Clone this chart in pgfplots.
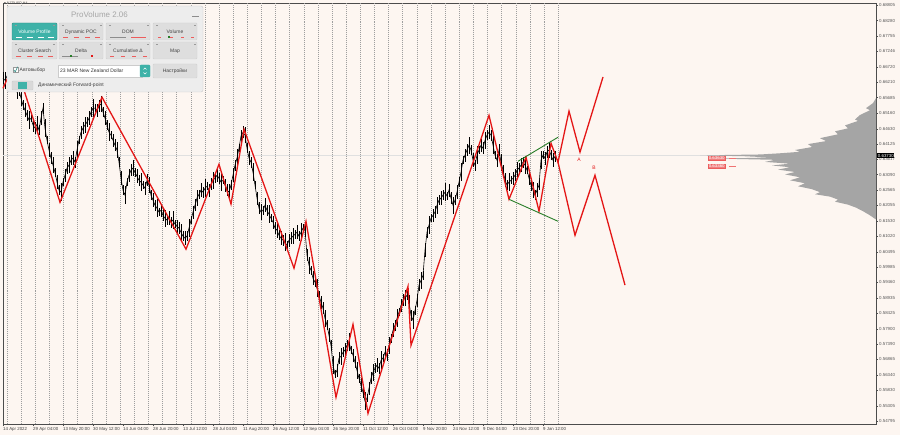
\documentclass[border=0pt]{standalone}
\usepackage{pgfplots}
\pgfplotsset{compat=1.18}
\usepackage{pgfplotstable}
\usepackage{fontspec}
\setmainfont{Liberation Sans}
\newfontfamily\symfont{DejaVu Sans}
\definecolor{bg}{RGB}{253,246,241}
\definecolor{zred}{RGB}{228,22,22}
\definecolor{zgreen}{RGB}{40,125,40}
\definecolor{teal1}{RGB}{62,178,168}
\definecolor{panelbg}{RGB}{237,237,237}
\definecolor{btn}{RGB}{222,222,222}
\definecolor{prof}{RGB}{165,165,165}
\newcommand{\tkfont}{\fontsize{4.4}{5}\selectfont}
\newcommand{\pfont}{\fontsize{5}{6}\selectfont}

\pgfplotstableread{
x c e
3 0.6634 0.0020
5 0.6627 0.0028
7 0.6641 0.0016
9 0.6621 0.0024
11 0.6611 0.0018
13 0.6627 0.0030
15 0.6600 0.0014
17 0.6587 0.0022
19 0.6594 0.0020
21 0.6567 0.0028
23 0.6543 0.0016
25 0.6526 0.0024
27 0.6509 0.0018
29 0.6493 0.0030
31 0.6499 0.0014
33 0.6476 0.0022
35 0.6466 0.0020
37 0.6479 0.0028
39 0.6459 0.0016
41 0.6499 0.0024
43 0.6533 0.0018
45 0.6466 0.0030
47 0.6425 0.0014
49 0.6392 0.0022
51 0.6365 0.0020
53 0.6341 0.0028
55 0.6317 0.0016
57 0.6284 0.0024
59 0.6257 0.0018
61 0.6250 0.0030
63 0.6284 0.0014
65 0.6307 0.0022
67 0.6331 0.0020
69 0.6341 0.0028
71 0.6358 0.0016
73 0.6365 0.0024
75 0.6351 0.0018
77 0.6392 0.0030
79 0.6425 0.0014
81 0.6452 0.0022
83 0.6466 0.0020
85 0.6476 0.0028
87 0.6486 0.0016
89 0.6499 0.0024
91 0.6520 0.0018
93 0.6533 0.0030
95 0.6533 0.0014
97 0.6526 0.0022
99 0.6540 0.0020
101 0.6547 0.0028
103 0.6520 0.0016
105 0.6499 0.0024
107 0.6476 0.0018
109 0.6452 0.0030
111 0.6442 0.0014
113 0.6425 0.0022
115 0.6408 0.0020
117 0.6392 0.0028
119 0.6351 0.0016
121 0.6297 0.0024
123 0.6257 0.0018
125 0.6240 0.0030
127 0.6284 0.0014
129 0.6307 0.0022
131 0.6324 0.0020
133 0.6331 0.0028
135 0.6317 0.0016
137 0.6304 0.0024
139 0.6290 0.0018
141 0.6284 0.0030
143 0.6274 0.0014
145 0.6263 0.0022
147 0.6290 0.0020
149 0.6274 0.0028
151 0.6240 0.0016
153 0.6223 0.0024
155 0.6206 0.0018
157 0.6196 0.0030
159 0.6183 0.0014
161 0.6189 0.0022
163 0.6172 0.0020
165 0.6162 0.0028
167 0.6156 0.0016
169 0.6162 0.0024
171 0.6149 0.0018
173 0.6156 0.0030
175 0.6142 0.0014
177 0.6135 0.0022
179 0.6129 0.0020
181 0.6115 0.0028
183 0.6102 0.0016
185 0.6095 0.0024
187 0.6102 0.0018
189 0.6129 0.0030
191 0.6156 0.0014
193 0.6183 0.0022
195 0.6206 0.0020
197 0.6230 0.0028
199 0.6243 0.0016
201 0.6257 0.0024
203 0.6250 0.0018
205 0.6263 0.0030
207 0.6270 0.0014
209 0.6257 0.0022
211 0.6277 0.0020
213 0.6290 0.0028
215 0.6297 0.0016
217 0.6307 0.0024
219 0.6297 0.0018
221 0.6284 0.0030
223 0.6290 0.0014
225 0.6274 0.0022
227 0.6257 0.0020
229 0.6250 0.0028
231 0.6274 0.0016
233 0.6307 0.0024
235 0.6341 0.0018
237 0.6365 0.0030
239 0.6398 0.0014
241 0.6439 0.0022
243 0.6452 0.0020
245 0.6442 0.0028
247 0.6398 0.0016
249 0.6365 0.0024
251 0.6351 0.0018
253 0.6317 0.0030
255 0.6274 0.0014
257 0.6230 0.0022
259 0.6196 0.0020
261 0.6183 0.0028
263 0.6189 0.0016
265 0.6206 0.0024
267 0.6189 0.0018
269 0.6176 0.0030
271 0.6162 0.0014
273 0.6149 0.0022
275 0.6129 0.0020
277 0.6122 0.0028
279 0.6105 0.0016
281 0.6095 0.0024
283 0.6088 0.0018
285 0.6081 0.0030
287 0.6071 0.0014
289 0.6088 0.0022
291 0.6095 0.0020
293 0.6102 0.0028
295 0.6108 0.0016
297 0.6115 0.0024
299 0.6102 0.0018
301 0.6115 0.0030
303 0.6129 0.0014
305 0.6122 0.0022
307 0.6038 0.0020
309 0.6004 0.0028
311 0.5987 0.0016
313 0.5960 0.0024
315 0.5947 0.0018
317 0.5926 0.0030
319 0.5903 0.0014
321 0.5879 0.0022
323 0.5859 0.0020
325 0.5825 0.0028
327 0.5802 0.0016
329 0.5768 0.0024
331 0.5734 0.0018
333 0.5667 0.0030
335 0.5637 0.0014
337 0.5650 0.0022
339 0.5691 0.0020
341 0.5697 0.0028
343 0.5711 0.0016
345 0.5718 0.0024
347 0.5734 0.0018
349 0.5745 0.0030
351 0.5718 0.0014
353 0.5701 0.0022
355 0.5677 0.0020
357 0.5650 0.0028
359 0.5623 0.0016
361 0.5600 0.0024
363 0.5576 0.0018
365 0.5546 0.0030
367 0.5556 0.0014
369 0.5589 0.0022
371 0.5623 0.0020
373 0.5643 0.0028
375 0.5657 0.0016
377 0.5667 0.0024
379 0.5657 0.0018
381 0.5684 0.0030
383 0.5691 0.0014
385 0.5711 0.0022
387 0.5701 0.0020
389 0.5734 0.0028
391 0.5758 0.0016
393 0.5785 0.0024
395 0.5802 0.0018
397 0.5825 0.0030
399 0.5846 0.0014
401 0.5869 0.0022
403 0.5886 0.0020
405 0.5893 0.0028
407 0.5903 0.0016
409 0.5879 0.0024
411 0.5835 0.0018
413 0.5819 0.0030
415 0.5852 0.0014
417 0.5886 0.0022
419 0.5937 0.0020
421 0.5953 0.0028
423 0.5970 0.0016
425 0.6055 0.0024
427 0.6115 0.0018
429 0.6139 0.0030
431 0.6162 0.0014
433 0.6172 0.0022
435 0.6183 0.0020
437 0.6206 0.0028
439 0.6223 0.0016
441 0.6230 0.0024
443 0.6240 0.0018
445 0.6250 0.0030
447 0.6237 0.0014
449 0.6257 0.0022
451 0.6230 0.0020
453 0.6206 0.0028
455 0.6223 0.0016
457 0.6250 0.0024
459 0.6284 0.0018
461 0.6317 0.0030
463 0.6358 0.0014
465 0.6375 0.0022
467 0.6392 0.0020
469 0.6408 0.0028
471 0.6392 0.0016
473 0.6358 0.0024
475 0.6341 0.0018
477 0.6375 0.0030
479 0.6392 0.0014
481 0.6408 0.0022
483 0.6398 0.0020
485 0.6425 0.0028
487 0.6442 0.0016
489 0.6452 0.0024
491 0.6442 0.0018
493 0.6408 0.0030
495 0.6375 0.0014
497 0.6358 0.0022
499 0.6392 0.0020
501 0.6351 0.0028
503 0.6324 0.0016
505 0.6290 0.0024
507 0.6274 0.0018
509 0.6284 0.0030
511 0.6290 0.0014
513 0.6297 0.0022
515 0.6307 0.0020
517 0.6324 0.0028
519 0.6331 0.0016
521 0.6341 0.0024
523 0.6351 0.0018
525 0.6341 0.0030
527 0.6324 0.0014
529 0.6297 0.0022
531 0.6274 0.0020
533 0.6257 0.0028
535 0.6240 0.0016
537 0.6257 0.0024
539 0.6274 0.0018
541 0.6358 0.0030
543 0.6375 0.0014
545 0.6365 0.0022
547 0.6385 0.0020
549 0.6392 0.0028
551 0.6375 0.0016
553 0.6358 0.0024
555 0.6371 0.0018
}\price

\begin{document}
\begin{tikzpicture}
\path[use as bounding box, fill=bg] (0,0) rectangle (900bp,435bp);
\begin{axis}[
  at={(3bp,11bp)}, anchor=south west,
  scale only axis, width=873bp, height=421bp,
  xmin=3, xmax=876, ymin=0.54692, ymax=0.68872,
  axis line style={draw=black!70, line width=0.5pt},
  scaled y ticks=false,
  xtick={3,33,...,543},
  xticklabels={14 Apr 2022,29 Apr 04:00,13 May 20:00,30 May 12:00,14 Jun 04:00,28 Jun 20:00,13 Jul 12:00,28 Jul 04:00,11 Aug 20:00,26 Aug 12:00,12 Sep 04:00,26 Sep 20:00,11 Oct 12:00,26 Oct 04:00,9 Nov 20:00,24 Nov 12:00,9 Dec 04:00,23 Dec 20:00,9 Jan 12:00},
  xtick pos=bottom, ytick pos=right,
  tick align=outside, major tick length=2bp,
  tick style={black!70, line width=0.4pt},
  xticklabel style={font=\tkfont, anchor=north west, inner sep=0pt, yshift=-1.5bp, text=black!75},
  yticklabel style={font=\tkfont, anchor=west, inner sep=0pt, xshift=1bp, text=black!65},
  ytick={0.54795,0.55305,0.55830,0.56340,0.56865,0.57390,0.57900,0.58425,0.58935,0.59460,0.59985,0.60495,0.61020,0.61530,0.62055,0.62565,0.63090,0.63617,0.64125,0.64630,0.65160,0.65685,0.66210,0.66720,0.67246,0.67755,0.68280,0.68805},
  yticklabels={0.54795,0.55305,0.55830,0.56340,0.56865,0.57390,0.57900,0.58425,0.58935,0.59460,0.59985,0.60495,0.61020,0.61530,0.62055,0.62565,0.63090,0.63617,0.64125,0.64630,0.65160,0.65685,0.66210,0.66720,0.67246,0.67755,0.68280,0.68805},
  extra x ticks={7,21.13,...,559},
  extra x tick labels={},
  extra x tick style={grid=major, major tick length=0pt,
     major grid style={black!38, dash pattern=on 1pt off 1pt, line width=0.35pt}},
  clip=false,
]
% current price line
\addplot[black!12, line width=0.6pt] coordinates {(3,0.6373) (876,0.6373)};
% volume profile
\addplot[fill=prof, draw=none] coordinates {
(876,0.6567) (873,0.6550) (866,0.6533) (870,0.6526) (860,0.6510) (855,0.6495)
(858,0.6490) (845,0.6475) (848,0.6465) (835,0.6455) (838,0.6445) (820,0.6432)
(826,0.6422) (808,0.6412) (812,0.6402) (795,0.6392) (800,0.6386) (780,0.6381)
(760,0.6377) (700,0.6374) (745,0.6371) (770,0.6367) (720,0.6363) (775,0.6359)
(765,0.6352) (790,0.6346) (772,0.6340) (790,0.6334) (778,0.6326) (795,0.6318)
(785,0.6310) (800,0.6300) (790,0.6290) (805,0.6280) (798,0.6270) (812,0.6260)
(820,0.6250) (815,0.6243) (830,0.6235) (838,0.6225) (835,0.6218) (848,0.6208)
(856,0.6198) (863,0.6186) (870,0.6172) (876,0.6158)};
% price
\addplot[black, line width=0.6pt, error bars/.cd, y dir=both, y explicit,
  error mark=none, error bar style={line width=0.8pt, black}]
  table[x=x, y=c, y error=e] {\price};
% zigzag
\addplot[zred, line width=1.3pt, line join=miter] coordinates {
(3,0.6600) (15,0.6688) (60,0.6216) (102,0.6570) (186,0.6058) (219,0.6344)
(231,0.6210) (244,0.6462) (294,0.5994) (306,0.6152) (336,0.5559) (353,0.5805)
(368,0.5505) (408,0.5933) (411,0.5734) (489,0.6509) (509,0.6226) (526,0.6368)
(539,0.6186) (551,0.6415) (558,0.6351) (569,0.6523) (580,0.6385) (603,0.6638)};
\addplot[zred, line width=1.3pt, line join=miter] coordinates {
(558,0.6351) (575,0.6105) (595,0.6307) (625,0.5937)};
% triangle
\addplot[zgreen, line width=0.9pt] coordinates {(518,0.6354) (558,0.6435)};
\addplot[zgreen, line width=0.9pt] coordinates {(509,0.6226) (558,0.6152)};
% labels
\node[text=zred, font=\fontsize{5}{5}\selectfont] at (axis cs:579,0.6358) {A};
\node[text=zred, font=\fontsize{5}{5}\selectfont] at (axis cs:594,0.6331) {B};
\draw[zred!60] (axis cs:729,0.6365) -- (axis cs:736,0.6365);
\draw[zred!60] (axis cs:729,0.6338) -- (axis cs:736,0.6338);
\node[fill=zred!55, draw=zred!70, text=white, font=\tkfont, inner sep=0.6pt, anchor=west] at (axis cs:708,0.6365) {0.63630};
\node[fill=zred!55, draw=zred!70, text=white, font=\tkfont, inner sep=0.6pt, anchor=west] at (axis cs:708,0.6338) {0.63360};
\node[fill=black, text=white, font=\tkfont, inner sep=0.7pt, anchor=west] at (axis cs:877,0.6373) {0.63730};
\end{axis}
% panel (pixel coordinates)
\begin{scope}[shift={(0,435bp)}, x=1bp, y=-1bp]
\node[font=\fontsize{3.6}{4}\selectfont, anchor=west, inner sep=0pt, text=black!70] at (4,3.5) {{\symfont ▾} NZDUSD,H4};
\draw[rounded corners=2bp, fill=panelbg, draw=black!20] (7,6) rectangle (203,92);
\node[font=\fontsize{8}{9}\selectfont, text=black!35] at (99.5,14.5) {ProVolume 2.06};
\draw[black!45, line width=0.8pt] (192,16.5) -- (199,16.5);
% row 1
\draw[rounded corners=1bp, fill=teal1, draw=teal1!80!black] (12,23) rectangle (57,40);
\node[font=\pfont, text=white] at (34.5,32) {Volume Profile};
\foreach \a/\b in {59/103,106/150,153/197}{
  \draw[rounded corners=1bp, fill=btn, draw=black!18] (\a,23) rectangle (\b,40);
  \draw[rounded corners=1bp, fill=btn, draw=black!18] (\a,42) rectangle (\b,59);
}
\draw[rounded corners=1bp, fill=btn, draw=black!18] (12,42) rectangle (57,59);
\node[font=\pfont, text=black!75] at (81,32) {Dynamic POC};
\node[font=\pfont, text=black!75] at (128,32) {DOM};
\node[font=\pfont, text=black!75] at (175,32) {Volume};
\node[font=\pfont, text=black!75] at (34.5,51) {Cluster Search};
\node[font=\pfont, text=black!75] at (81,51) {Delta};
\node[font=\pfont, text=black!75] at (128,51) {Cumulative Δ};
\node[font=\pfont, text=black!75] at (175,51) {Map};
% little indicators
\foreach \a in {12,59,106,153}{
  \fill[black!40] (\a+3,25) rectangle (\a+5,26.5);
  \fill[black!40] (\a+41,25) rectangle (\a+43,26.5);
  \fill[black!40] (\a+3,44) rectangle (\a+5,45.5);
  \fill[black!40] (\a+41,44) rectangle (\a+43,45.5);
}
\foreach \a in {16,27,38,48}{ \draw[white, line width=0.6pt] (\a,37.5) -- (\a+6,37.5); }
\foreach \a in {63,74,85,95}{ \draw[zred!70, line width=0.6pt] (\a,37.5) -- (\a+5,37.5); }
\draw[black!45, line width=0.6pt] (110,37.5) -- (126,37.5);
\draw[zred!70, line width=0.6pt] (131,37.5) -- (146,37.5);
\foreach \a in {158,170,181,191}{ \draw[zred!70, line width=0.6pt] (\a,37.5) -- (\a+3,37.5); }
\fill[zgreen] (168,36.5) rectangle (170,38.5);
\foreach \a in {16,27,38,48}{ \draw[zred!70, line width=0.6pt] (\a,56.5) -- (\a+5,56.5); }
\draw[black!45, line width=0.6pt] (62,56.5) -- (78,56.5);
\fill[zgreen] (70,55.5) rectangle (72,57.5);
\fill[zred] (91,55.5) rectangle (93,57.5);
\foreach \a in {110,121,132,143}{ \draw[zred!70, line width=0.6pt] (\a,56.5) -- (\a+4,56.5); }
% row 3
\draw[fill=white, draw=black!40] (13,67.5) rectangle (18,72.5);
\draw[teal1!80!black, line width=0.6pt] (13.8,70) -- (15.3,71.8) -- (17.6,66.8);
\node[font=\pfont, text=black!75, anchor=west, inner sep=0pt] at (19.5,70.5) {Автовыбор};
\draw[fill=white, draw=black!20] (58,65) rectangle (142,77);
\node[font=\pfont, text=black!80, anchor=west, inner sep=0pt] at (60,71) {23 MAR New Zealand Dollar};
\draw[rounded corners=1bp, fill=teal1, draw=teal1] (140,65) rectangle (150,77);
\draw[white, line width=0.4pt] (143.5,69.5) -- (145,68) -- (146.5,69.5);
\draw[white, line width=0.4pt] (143.5,72.5) -- (145,74) -- (146.5,72.5);
\draw[rounded corners=1bp, fill=btn, draw=black!18] (153,64) rectangle (197,78);
\node[font=\pfont, text=black!75] at (175,71) {Настройки};
% row 4
\draw[rounded corners=1bp, fill=black!15, draw=black!20] (12,81) rectangle (33,90);
\fill[teal1] (18,82) rectangle (27,89);
\node[font=\pfont, text=black!75, anchor=west, inner sep=0pt] at (38,85.5) {Динамический Forward-point};
\end{scope}
\end{tikzpicture}
\end{document}
